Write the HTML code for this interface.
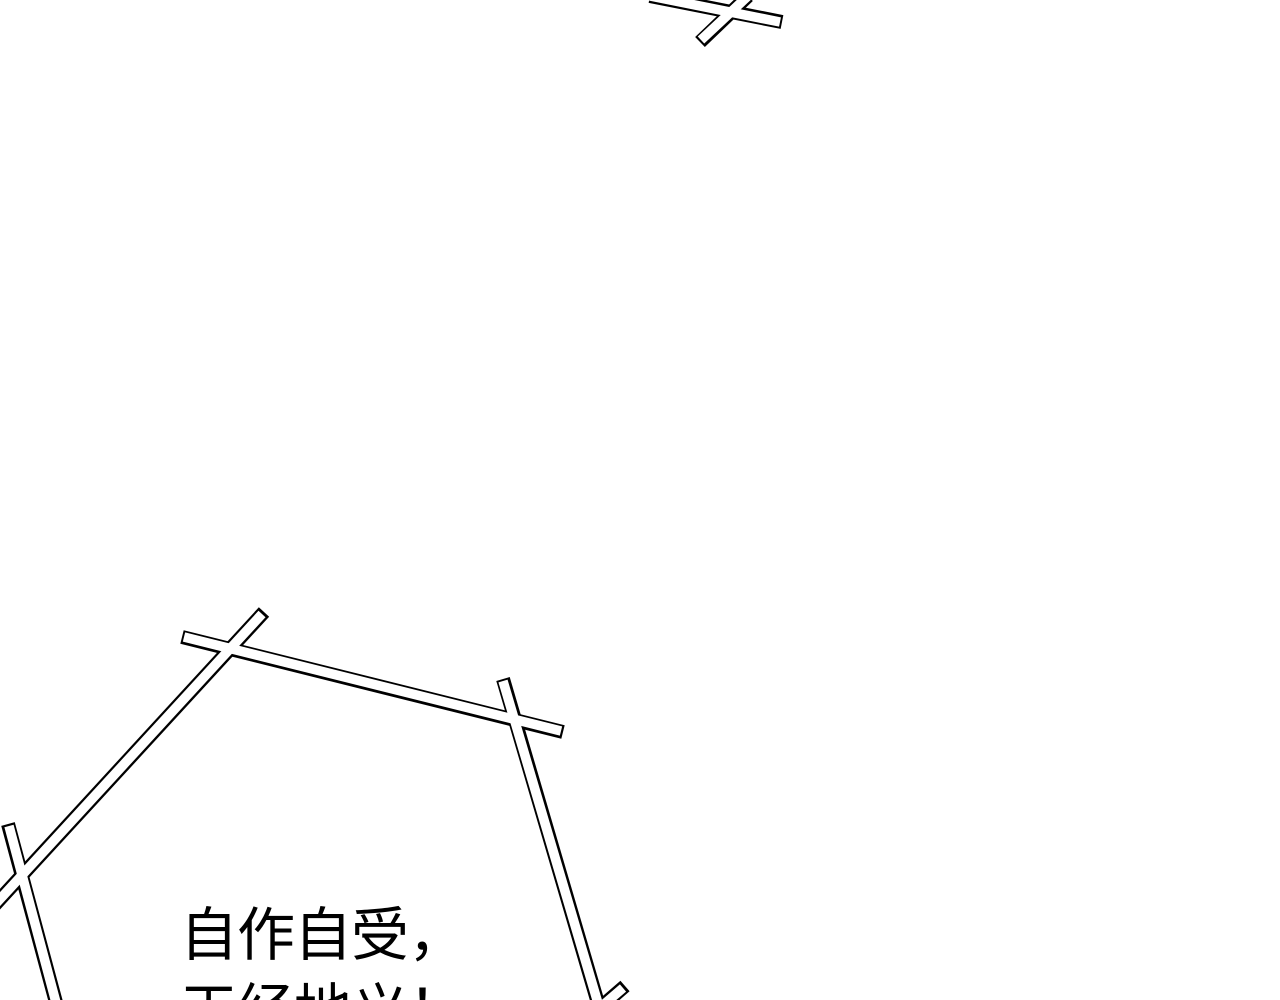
<!DOCTYPE html>
<html><head><meta charset="utf-8"><style>
html,body{margin:0;padding:0;background:#fff;width:1280px;height:1000px;overflow:hidden;position:relative}
svg{position:absolute;left:0;top:0}
.t{position:absolute;left:180px;font-family:"Liberation Sans","Noto Sans CJK SC",sans-serif;font-size:58px;color:#000;white-space:nowrap;letter-spacing:-1px}
</style></head><body>
<svg width="1280" height="1000" viewBox="0 0 1280 1000">
<g stroke-linecap="butt" fill="none">
<g stroke="#000" stroke-width="14">
<line x1="650" y1="-4" x2="782" y2="22"/>
<line x1="748" y1="-4" x2="700" y2="42"/>
<line x1="182" y1="637" x2="563" y2="732"/>
<line x1="264" y1="612" x2="-10" y2="910"/>
<line x1="8" y1="824" x2="58" y2="1010"/>
<line x1="503" y1="679" x2="600" y2="1010"/>
<line x1="625" y1="986" x2="595" y2="1012"/>
</g>
<g stroke="#fff" stroke-width="9.5">
<line x1="650" y1="-4" x2="780" y2="22"/>
<line x1="748" y1="-4" x2="701" y2="40"/>
<line x1="184" y1="637" x2="561" y2="731"/>
<line x1="262" y1="614" x2="-10" y2="910"/>
<line x1="9" y1="826" x2="58" y2="1010"/>
<line x1="503" y1="681" x2="600" y2="1010"/>
<line x1="623" y1="988" x2="595" y2="1012"/>
</g>
</g>
</svg>
<div class="t" style="top:888px">自作自受，</div>
<div class="t" style="top:964px">天经地义！</div>
</body></html>
